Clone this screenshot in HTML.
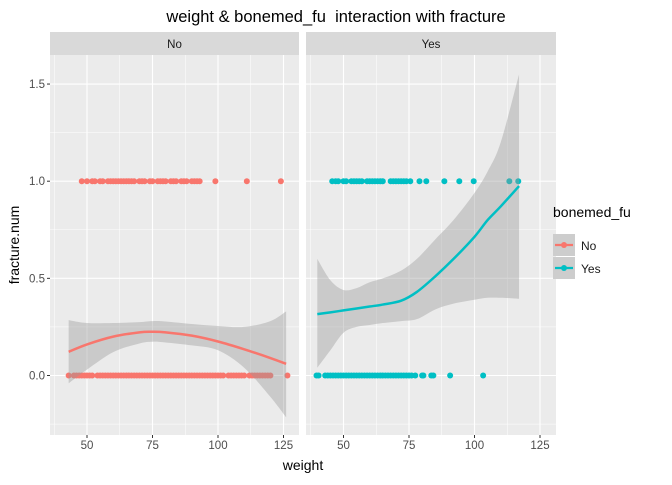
<!DOCTYPE html>
<html><head><meta charset="utf-8"><style>
body{margin:0;background:#fff;}
svg text{font-family:"Liberation Sans",sans-serif;}
</style></head><body>
<svg id="chart" width="672" height="480" xmlns="http://www.w3.org/2000/svg">
<text x="336" y="22" text-anchor="middle" font-size="16.5" fill="#000" style="white-space:pre">weight &amp; bonemed_fu  interaction with fracture</text>
<g id="panels"></g>
<text x="303" y="470" text-anchor="middle" font-size="14" fill="#000">weight</text>
<text transform="translate(19,245) rotate(-90)" text-anchor="middle" font-size="14" fill="#000">fracture.num</text>
<g>
<text x="553" y="217" font-size="14" fill="#000">bonemed_fu</text>
<g>
<rect x="553" y="234" width="22" height="22" fill="#cdcdcd"/>
<line x1="555" y1="245" x2="573" y2="245" stroke="#F8766D" stroke-width="2.2"/>
<circle cx="564" cy="245" r="3" fill="#F8766D"/>
<text x="581" y="250" font-size="12" fill="#1a1a1a">No</text></g>
<g>
<rect x="553" y="257" width="22" height="22" fill="#cdcdcd"/>
<line x1="555" y1="268" x2="573" y2="268" stroke="#00BFC4" stroke-width="2.2"/>
<circle cx="564" cy="268" r="3" fill="#00BFC4"/>
<text x="581" y="273" font-size="12" fill="#1a1a1a">Yes</text></g>
</g>
</svg>
<script>
const yTicks=[0,0.5,1.0,1.5];
const yTickLabels=["0.0","0.5","1.0","1.5"];
const xTicks=[50,75,100,125];
const noFitX=[43,50,60,70,75,80,90,100,110,120,126];
const noFit=[.122,.16,.20,.222,.225,.222,.205,.175,.135,.09,.06];
const noUpper=[.285,.27,.27,.275,.28,.278,.265,.255,.25,.28,.33];
const noLower=[-.04,.03,.12,.165,.174,.17,.155,.13,.04,-.11,-.215];
const yesFitX=[40,45,50,55,60,65,72,78,85,92,100,105,110,117];
const yesFit=[.316,.325,.335,.345,.355,.365,.385,.43,.51,.6,.714,.8,.87,.975];
const yesUpper=[.6,.49,.44,.45,.48,.5,.54,.6,.70,.8,.94,1.05,1.2,1.55];
const yesLower=[.04,.13,.22,.25,.26,.27,.28,.29,.34,.37,.39,.40,.40,.395];
const noFrac1=[48,50,52,53,55,56,58,59,60,61,62,63,64,65,66,67,68,70,71,72,74,75,77,78,79,80,82,83,84,86,87,88,90,91,92,93,99,111,124];
const noFrac0=[43,45,46,47,48,49,50,51,52,54,55,56,57,58,59,60,61,62,63,64,65,66,67,68,69,70,71,72,73,74,75,76,77,78,79,80,81,82,83,84,85,86,87,88,89,90,91,92,93,94,95,96,97,98,99,100,101,102,104,105,106,107,108,109,110,112,113,114,115,116,117,118,119,120,126.5];
const yesFrac1=[45.7,47,48,50,51,53,54,55,56,57,59,60,61,62,63,64,65,68,69,70,71,72,73,74,75.5,79,81.6,88.5,94.2,99.7,113.3,116.7];
const yesFrac0=[39.7,40.5,43,44,45,46,47,48,49,50,51,52,53,54,55,56,57,58,59,60,61,62,63,64,65,66,67,68,69,70,71,72,73,74,75,76,77.4,80,80.5,83.5,84.3,90.7,103.3];
const NS="http://www.w3.org/2000/svg";
const pTop=55,pBot=435;
const yS=v=>375.5-v*194.3;
const panels=[
 {name:"No",x0:50,x1:299,ox:87,col:"#F8766D",fx:noFitX,f:noFit,u:noUpper,l:noLower,p1:noFrac1,p0:noFrac0},
 {name:"Yes",x0:306,x1:556,ox:343.5,col:"#00BFC4",fx:yesFitX,f:yesFit,u:yesUpper,l:yesLower,p1:yesFrac1,p0:yesFrac0}];
const root=document.getElementById('panels');
function mk(t,a,parent){const e=document.createElementNS(NS,t);for(const k in a)e.setAttribute(k,a[k]);(parent||root).appendChild(e);return e;}
function smooth(pts,start){
 let d=(start?'M':'L')+pts[0][0]+','+pts[0][1];
 for(let i=0;i<pts.length-1;i++){
  const p0=pts[Math.max(i-1,0)],p1=pts[i],p2=pts[i+1],p3=pts[Math.min(i+2,pts.length-1)];
  const c1=[p1[0]+(p2[0]-p0[0])/6,p1[1]+(p2[1]-p0[1])/6];
  const c2=[p2[0]-(p3[0]-p1[0])/6,p2[1]-(p3[1]-p1[1])/6];
  d+='C'+c1.join(',')+' '+c2.join(',')+' '+p2.join(',');
 }
 return d;
}
panels.forEach((P,pi)=>{
 const xS=w=>P.ox+(w-50)*2.62;
 const g=mk('g',{});
 
 
 mk('rect',{x:P.x0,y:pTop,width:P.x1-P.x0,height:pBot-pTop,fill:'#EBEBEB'},g);
 const strip=mk('rect',{x:P.x0,y:32,width:P.x1-P.x0,height:23,fill:'#D9D9D9'},g);
 
 
 const st=mk('text',{x:(P.x0+P.x1)/2,y:48,'text-anchor':'middle','font-size':11.5,fill:'#1a1a1a'},g);st.textContent=P.name;
 for(let i=0;i<yTicks.length;i++){const v=yTicks[i]-0.25;mk('line',{x1:P.x0,x2:P.x1,y1:yS(v),y2:yS(v),stroke:'#fff','stroke-width':0.5},g);}
 for(let i=0;i<xTicks.length;i++){const v=xTicks[i]-12.5;mk('line',{x1:xS(v),x2:xS(v),y1:pTop,y2:pBot,stroke:'#fff','stroke-width':0.5},g);}
 yTicks.forEach(v=>mk('line',{x1:P.x0,x2:P.x1,y1:yS(v),y2:yS(v),stroke:'#fff','stroke-width':1.1},g));
 xTicks.forEach(v=>{mk('line',{x1:xS(v),x2:xS(v),y1:pTop,y2:pBot,stroke:'#fff','stroke-width':1.1},g);
  mk('line',{x1:xS(v),x2:xS(v),y1:pBot,y2:pBot+3,stroke:'#333','stroke-width':1},g);
  const t=mk('text',{x:xS(v),y:pBot+14,'text-anchor':'middle','font-size':11.5,fill:'#4d4d4d'},g);t.textContent=v;});
 if(pi===0){yTicks.forEach((v,i)=>{mk('line',{x1:P.x0-3,x2:P.x0,y1:yS(v),y2:yS(v),stroke:'#333','stroke-width':1},g);
  const t=mk('text',{x:P.x0-5,y:yS(v)+4,'text-anchor':'end','font-size':11.5,fill:'#4d4d4d'},g);t.textContent=yTickLabels[i];});}
 P.p1.forEach(w=>{const c=mk('circle',{cx:xS(w),cy:yS(1),r:3,fill:P.col},g);
  
  });
 P.p0.forEach(w=>{const c=mk('circle',{cx:xS(w),cy:yS(0),r:3,fill:P.col},g);
  
  });
 const up=P.fx.map((w,i)=>[xS(w),yS(P.u[i])]);
 const lo=P.fx.map((w,i)=>[xS(w),yS(P.l[i])]).reverse();
 const d=smooth(up,true)+smooth(lo,false)+'Z';
 const rib=mk('path',{d:d,fill:'rgba(153,153,153,0.4)'},g);
 
 
 const fit=P.fx.map((w,i)=>[xS(w),yS(P.f[i])]);
 const ln=mk('path',{d:smooth(fit,true),fill:'none',stroke:P.col,'stroke-width':2.5,'stroke-linejoin':'round'},g);
 
 
});
</script>
</body></html>
